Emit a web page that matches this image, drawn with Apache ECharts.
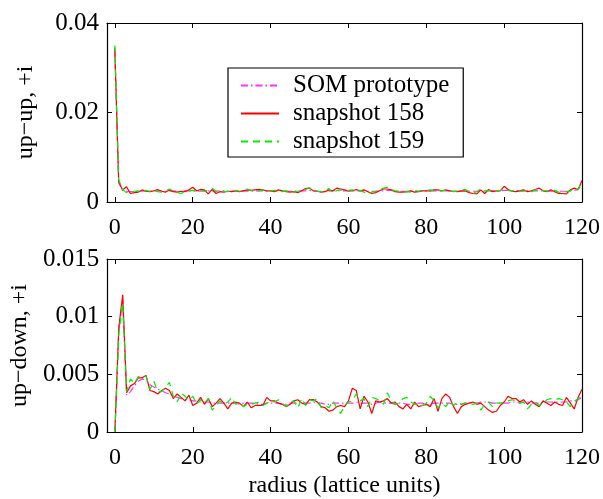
<!DOCTYPE html>
<html>
<head>
<meta charset="utf-8">
<script src="https://cdn.jsdelivr.net/npm/echarts@6/dist/echarts.min.js"></script>
<style>html,body{margin:0;padding:0;background:#fff}#c{width:603px;height:499px}</style>
</head>
<body>
<div id="c"></div>
<script>
const radius = [0,1,2,3,4,5,6,7,8,9,10,11,12,13,14,15,16,17,18,19,20,21,22,23,24,25,26,27,28,29,30,31,32,33,34,35,36,37,38,39,40,41,42,43,44,45,46,47,48,49,50,51,52,53,54,55,56,57,58,59,60,61,62,63,64,65,66,67,68,69,70,71,72,73,74,75,76,77,78,79,80,81,82,83,84,85,86,87,88,89,90,91,92,93,94,95,96,97,98,99,100,101,102,103,104,105,106,107,108,109,110,111,112,113,114,115,116,117,118,119,120];
const xTicks = [0,20,40,60,80,100,120];
const seriesNames = ['SOM prototype','snapshot 158','snapshot 159'];

const upUpSOM = [
0.0340,0.0043,0.0026,0.0024,0.0023,0.0023,0.0024,0.0024,0.0025,0.0024,
0.0024,0.0025,0.0025,0.0024,0.0024,0.0025,0.0024,0.0024,0.0025,0.0025,
0.0025,0.0024,0.0024,0.0025,0.0025,0.0024,0.0024,0.0025,0.0025,0.0024,
0.0024,0.0025,0.0025,0.0025,0.0024,0.0024,0.0025,0.0025,0.0025,0.0024,
0.0024,0.0024,0.0025,0.0025,0.0024,0.0024,0.0024,0.0025,0.0025,0.0025,
0.0026,0.0025,0.0024,0.0024,0.0024,0.0025,0.0025,0.0026,0.0025,0.0025,
0.0025,0.0025,0.0025,0.0025,0.0025,0.0024,0.0024,0.0024,0.0025,0.0025,
0.0026,0.0026,0.0025,0.0024,0.0024,0.0024,0.0024,0.0024,0.0024,0.0025,
0.0025,0.0025,0.0025,0.0025,0.0025,0.0025,0.0025,0.0024,0.0024,0.0024,
0.0024,0.0024,0.0024,0.0024,0.0024,0.0024,0.0025,0.0025,0.0025,0.0025,
0.0026,0.0026,0.0025,0.0025,0.0025,0.0025,0.0025,0.0025,0.0025,0.0025,
0.0025,0.0025,0.0024,0.0024,0.0024,0.0024,0.0024,0.0025,0.0026,0.0028,
0.0040];
const upUp158 = [
0.0345,0.0045,0.0027,0.0034,0.0019,0.0021,0.0022,0.0027,0.0024,0.0023,
0.0025,0.0028,0.0024,0.0022,0.0027,0.0023,0.0022,0.0024,0.0023,0.0027,
0.0033,0.0025,0.0028,0.0027,0.0018,0.0028,0.0019,0.0023,0.0022,0.0024,
0.0023,0.0025,0.0023,0.0025,0.0027,0.0026,0.0027,0.0028,0.0027,0.0025,
0.0025,0.0023,0.0027,0.0025,0.0023,0.0022,0.0023,0.0021,0.0025,0.0030,
0.0031,0.0025,0.0024,0.0022,0.0023,0.0027,0.0025,0.0031,0.0029,0.0027,
0.0025,0.0025,0.0028,0.0025,0.0027,0.0023,0.0019,0.0021,0.0025,0.0029,
0.0029,0.0027,0.0023,0.0022,0.0022,0.0023,0.0025,0.0022,0.0023,0.0025,
0.0025,0.0025,0.0027,0.0027,0.0025,0.0027,0.0025,0.0024,0.0023,0.0025,
0.0025,0.0021,0.0019,0.0018,0.0027,0.0019,0.0028,0.0023,0.0025,0.0025,
0.0035,0.0028,0.0024,0.0023,0.0025,0.0027,0.0023,0.0025,0.0028,0.0031,
0.0025,0.0023,0.0027,0.0023,0.0019,0.0019,0.0018,0.0027,0.0031,0.0028,
0.0048];
const upUp159 = [
0.0350,0.0050,0.0028,0.0021,0.0022,0.0024,0.0025,0.0023,0.0026,0.0024,
0.0028,0.0023,0.0022,0.0024,0.0029,0.0025,0.0021,0.0019,0.0024,0.0025,
0.0026,0.0024,0.0026,0.0024,0.0027,0.0031,0.0024,0.0025,0.0024,0.0023,
0.0024,0.0026,0.0024,0.0025,0.0029,0.0026,0.0024,0.0025,0.0027,0.0025,
0.0024,0.0026,0.0025,0.0023,0.0025,0.0024,0.0022,0.0024,0.0026,0.0028,
0.0032,0.0026,0.0024,0.0023,0.0025,0.0030,0.0019,0.0026,0.0027,0.0025,
0.0026,0.0027,0.0024,0.0026,0.0022,0.0019,0.0022,0.0024,0.0027,0.0031,
0.0033,0.0028,0.0025,0.0024,0.0021,0.0023,0.0022,0.0026,0.0024,0.0025,
0.0026,0.0027,0.0025,0.0026,0.0025,0.0026,0.0025,0.0023,0.0025,0.0027,
0.0028,0.0024,0.0020,0.0023,0.0030,0.0025,0.0026,0.0024,0.0025,0.0026,
0.0029,0.0026,0.0024,0.0027,0.0025,0.0024,0.0026,0.0023,0.0027,0.0025,
0.0026,0.0024,0.0025,0.0026,0.0022,0.0021,0.0023,0.0025,0.0030,0.0027,
0.0046];

const upDownSOM = [
0.0000,0.0088,0.0115,0.0032,0.0035,0.0040,0.0044,0.0046,0.0045,0.0041,
0.0039,0.0037,0.0036,0.0034,0.0033,0.0031,0.0030,0.0029,0.0028,0.0028,
0.0027,0.0027,0.0026,0.0026,0.0026,0.0025,0.0025,0.0025,0.0025,0.0025,
0.0025,0.0025,0.0024,0.0025,0.0025,0.0025,0.0025,0.0024,0.0024,0.0025,
0.0025,0.0025,0.0025,0.0024,0.0024,0.0025,0.0025,0.0025,0.0026,0.0025,
0.0025,0.0026,0.0025,0.0025,0.0024,0.0024,0.0025,0.0025,0.0025,0.0025,
0.0025,0.0025,0.0026,0.0025,0.0025,0.0025,0.0024,0.0025,0.0026,0.0025,
0.0025,0.0025,0.0024,0.0025,0.0025,0.0024,0.0024,0.0025,0.0025,0.0025,
0.0024,0.0024,0.0025,0.0025,0.0025,0.0025,0.0025,0.0024,0.0024,0.0024,
0.0025,0.0025,0.0025,0.0025,0.0026,0.0026,0.0026,0.0025,0.0025,0.0025,
0.0025,0.0025,0.0026,0.0026,0.0025,0.0026,0.0026,0.0025,0.0025,0.0025,
0.0026,0.0026,0.0026,0.0026,0.0026,0.0026,0.0026,0.0027,0.0027,0.0028,
0.0030];
const upDown158 = [
0.0002,0.0091,0.0119,0.0034,0.0040,0.0042,0.0047,0.0047,0.0049,0.0036,
0.0035,0.0033,0.0036,0.0038,0.0036,0.0029,0.0033,0.0030,0.0027,0.0032,
0.0023,0.0025,0.0030,0.0024,0.0029,0.0022,0.0025,0.0029,0.0025,0.0020,
0.0025,0.0026,0.0025,0.0022,0.0026,0.0021,0.0023,0.0023,0.0023,0.0030,
0.0027,0.0027,0.0025,0.0024,0.0022,0.0024,0.0027,0.0028,0.0025,0.0024,
0.0028,0.0028,0.0026,0.0022,0.0021,0.0018,0.0019,0.0022,0.0023,0.0022,
0.0027,0.0038,0.0036,0.0020,0.0031,0.0026,0.0016,0.0027,0.0026,0.0027,
0.0029,0.0025,0.0026,0.0022,0.0020,0.0024,0.0020,0.0026,0.0022,0.0023,
0.0024,0.0022,0.0029,0.0018,0.0029,0.0033,0.0030,0.0022,0.0016,0.0022,
0.0024,0.0025,0.0026,0.0024,0.0025,0.0022,0.0019,0.0017,0.0018,0.0023,
0.0026,0.0031,0.0029,0.0029,0.0026,0.0028,0.0024,0.0027,0.0024,0.0022,
0.0027,0.0025,0.0023,0.0026,0.0024,0.0023,0.0030,0.0025,0.0020,0.0030,
0.0037];
const upDown159 = [
0.0000,0.0085,0.0112,0.0035,0.0046,0.0042,0.0048,0.0049,0.0048,0.0037,
0.0044,0.0035,0.0035,0.0039,0.0043,0.0031,0.0026,0.0034,0.0031,0.0028,
0.0031,0.0024,0.0028,0.0025,0.0029,0.0019,0.0023,0.0027,0.0024,0.0026,
0.0030,0.0024,0.0026,0.0022,0.0024,0.0024,0.0025,0.0026,0.0023,0.0025,
0.0027,0.0026,0.0028,0.0025,0.0022,0.0026,0.0027,0.0021,0.0029,0.0023,
0.0028,0.0027,0.0029,0.0021,0.0023,0.0021,0.0027,0.0021,0.0016,0.0023,
0.0026,0.0027,0.0033,0.0027,0.0029,0.0022,0.0030,0.0029,0.0027,0.0024,
0.0034,0.0027,0.0024,0.0025,0.0029,0.0030,0.0026,0.0024,0.0025,0.0023,
0.0025,0.0031,0.0027,0.0021,0.0025,0.0022,0.0027,0.0023,0.0026,0.0024,
0.0025,0.0025,0.0024,0.0025,0.0019,0.0024,0.0026,0.0022,0.0025,0.0025,
0.0026,0.0027,0.0028,0.0027,0.0025,0.0026,0.0020,0.0024,0.0026,0.0023,
0.0025,0.0028,0.0029,0.0028,0.0029,0.0028,0.0026,0.0022,0.0026,0.0029,
0.0031];

const FONT = 'Liberation Serif';
const pairs = (ys) => radius.map((r, i) => [r, ys[i]]);

function xAxes(gi, showName) {
  const base = {
    type: 'value', gridIndex: gi, min: -2, max: 120,
    splitLine: {show: false},
    axisLine: {show: true, onZero: false, lineStyle: {color: '#000', width: 1.2}},
    axisTick: {show: true, inside: true, length: 5, customValues: xTicks, lineStyle: {color: '#000'}},
    axisLabel: {show: false, customValues: xTicks}
  };
  const bottom = Object.assign({}, base, {
    position: 'bottom',
    axisLabel: {show: true, customValues: xTicks, margin: 14, color: '#000', fontFamily: FONT, fontSize: 24}
  });
  if (showName) {
    Object.assign(bottom, {
      name: 'radius (lattice units)', nameLocation: 'middle', nameGap: 42,
      nameTextStyle: {color: '#000', fontFamily: FONT, fontSize: 24}
    });
  }
  const top = Object.assign({}, base, {position: 'top'});
  return [bottom, top];
}
function yAxes(gi, max, interval, name) {
  const base = {
    type: 'value', gridIndex: gi, min: 0, max: max, interval: interval,
    splitLine: {show: false},
    axisLine: {show: true, onZero: false, lineStyle: {color: '#000', width: 1.2}},
    axisTick: {show: true, inside: true, length: 5, lineStyle: {color: '#000'}},
    axisLabel: {show: false}
  };
  const left = Object.assign({}, base, {
    position: 'left',
    name: name, nameLocation: 'middle', nameGap: 69, nameRotate: 90,
    nameTextStyle: {color: '#000', fontFamily: FONT, fontSize: 24},
    axisLabel: {show: true, margin: 8, color: '#000', fontFamily: FONT, fontSize: 25}
  });
  const right = Object.assign({}, base, {position: 'right'});
  return [left, right];
}

const styles = [
  {color: '#ff33ff', type: [7, 3, 1.5, 3]},
  {color: '#ff0000', type: 'solid'},
  {color: '#00ee00', type: [7, 5]}
];
function mk(name, ys, gi, k) {
  return {
    name: name, type: 'line', xAxisIndex: gi * 2, yAxisIndex: gi * 2,
    data: pairs(ys), symbol: 'none', showSymbol: false, silent: true,
    lineStyle: {color: styles[k].color, width: 1.2, type: styles[k].type},
    itemStyle: {color: styles[k].color}
  };
}

const chart = echarts.init(document.getElementById('c'), null, {renderer: 'canvas'});
chart.setOption({
  animation: false,
  backgroundColor: '#fff',
  grid: [
    {left: 107, top: 23, width: 476, height: 179},
    {left: 107, top: 259, width: 476, height: 180}
  ],
  legend: {
    show: true, left: 228, top: 68, orient: 'vertical',
    data: seriesNames,
    itemWidth: 38, itemHeight: 14, itemGap: 3,
    padding: [5, 14, 3, 12],
    itemStyle: {opacity: 0},
    borderColor: '#000', borderWidth: 1.2, backgroundColor: '#fff',
    textStyle: {color: '#000', fontFamily: FONT, fontSize: 25, padding: [0, 0, 0, 9]}
  },
  xAxis: [...xAxes(0, false), ...xAxes(1, true)],
  yAxis: [...yAxes(0, 0.04, 0.02, 'up\u2212up, +i'), ...yAxes(1, 0.015, 0.005, 'up\u2212down, +i')],
  series: [
    mk(seriesNames[0], upUpSOM, 0, 0),
    mk(seriesNames[1], upUp158, 0, 1),
    mk(seriesNames[2], upUp159, 0, 2),
    mk(seriesNames[0], upDownSOM, 1, 0),
    mk(seriesNames[1], upDown158, 1, 1),
    mk(seriesNames[2], upDown159, 1, 2)
  ]
});
</script>
</body>
</html>
